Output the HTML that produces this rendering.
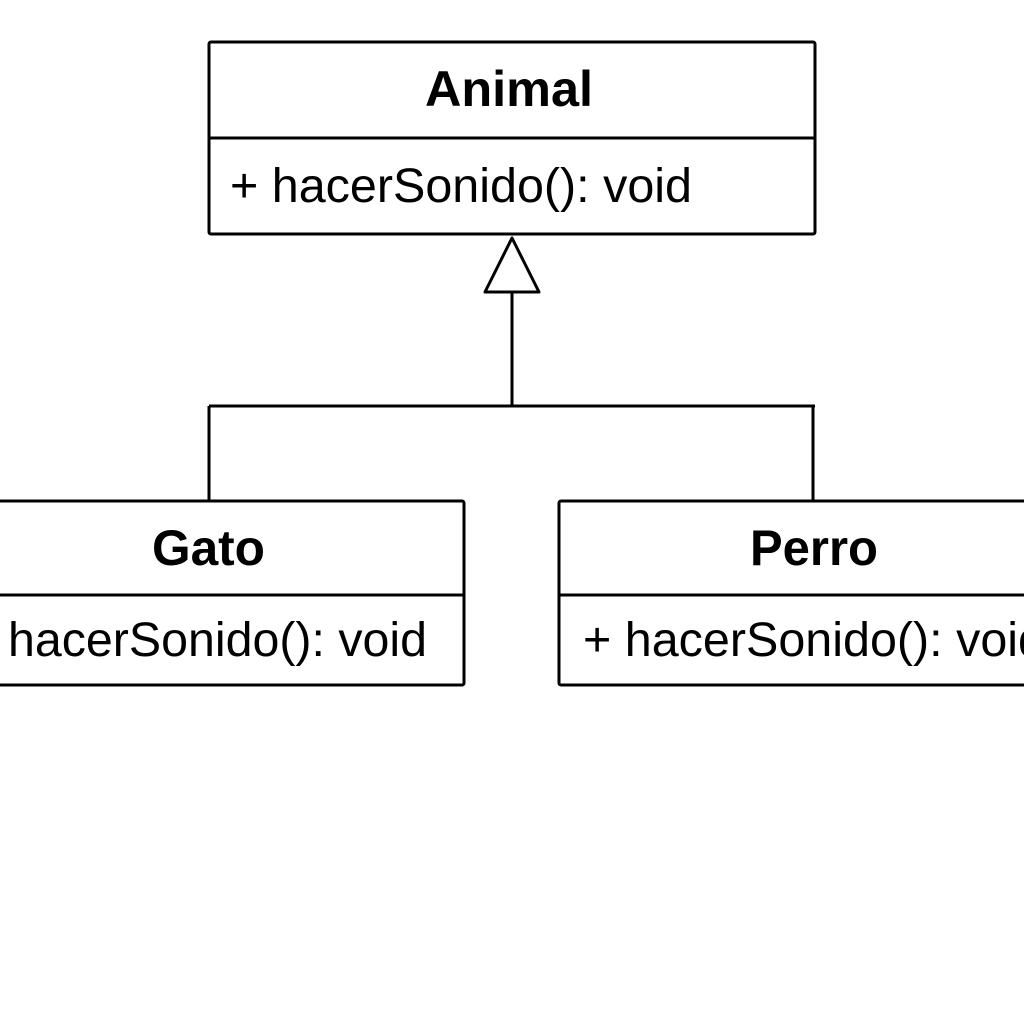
<!DOCTYPE html>
<html><head><meta charset="utf-8"><style>html,body{margin:0;padding:0;background:#fff;width:1024px;height:1024px;overflow:hidden}</style></head>
<body>
<svg width="1024" height="1024" viewBox="0 0 1024 1024" xmlns="http://www.w3.org/2000/svg" font-family="Liberation Sans, Arial, sans-serif">
<rect width="1024" height="1024" fill="#fff"/>
<g fill="none" stroke="#000" stroke-width="3" stroke-linejoin="round">
<rect x="209" y="42" width="606" height="192" rx="2"/>
<line x1="209" y1="138" x2="815" y2="138"/>
<polygon points="512,238 485,292 539,292"/>
<line x1="512" y1="292" x2="512" y2="406"/>
<line x1="209" y1="406" x2="815" y2="406"/>
<line x1="209" y1="406" x2="209" y2="501"/>
<line x1="813" y1="406" x2="813" y2="501"/>
<rect x="-10" y="501" width="474" height="184" rx="2"/>
<line x1="-10" y1="595" x2="464" y2="595"/>
<rect x="559" y="501" width="480" height="184" rx="2"/>
<line x1="559" y1="595" x2="1030" y2="595"/>
</g>
<g fill="#000" font-size="48">
<text x="425" y="106" font-size="50" font-weight="bold" textLength="168" lengthAdjust="spacingAndGlyphs">Animal</text>
<text x="230" y="202" textLength="462" lengthAdjust="spacingAndGlyphs">+ hacerSonido(): void</text>
<text x="152" y="565" font-size="50" font-weight="bold" textLength="113" lengthAdjust="spacingAndGlyphs">Gato</text>
<text x="8" y="656" textLength="419" lengthAdjust="spacingAndGlyphs">hacerSonido(): void</text>
<text x="750" y="565" font-size="50" font-weight="bold" textLength="128" lengthAdjust="spacingAndGlyphs">Perro</text>
<text x="583" y="656" textLength="462" lengthAdjust="spacingAndGlyphs">+ hacerSonido(): void</text>
</g>
</svg>
</body></html>
